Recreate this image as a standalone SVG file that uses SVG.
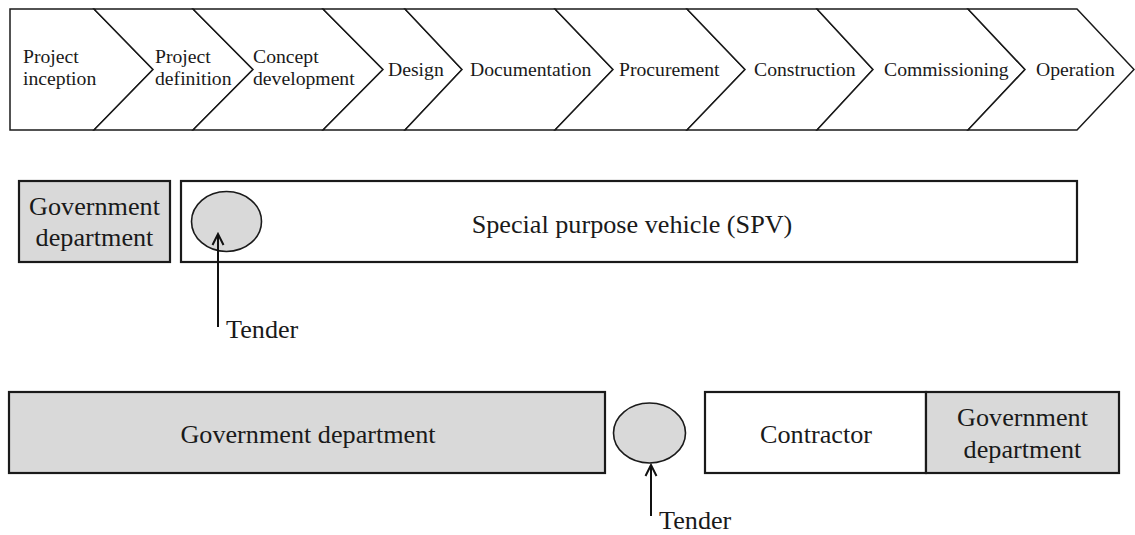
<svg xmlns="http://www.w3.org/2000/svg" width="1135" height="535" viewBox="0 0 1135 535">
<defs>
<style>
.ch{fill:#fff;stroke:#1a1a1a;stroke-width:1.5;stroke-linejoin:miter}
.t{font-family:"Liberation Serif","Times New Roman",serif;fill:#1a1a1a}
.s{font-size:19.7px}
.l{font-size:26.2px}
.box{stroke:#1a1a1a;stroke-width:2.2}
.g{fill:#d9d9d9}
.w{fill:#fff}
.ell{fill:#d9d9d9;stroke:#1a1a1a;stroke-width:1.6}
.arr{stroke:#111;stroke-width:2;fill:none}
</style>
<marker id="ah" viewBox="0 0 14 14" refX="12" refY="7" markerWidth="14" markerHeight="14" markerUnits="userSpaceOnUse" orient="auto">
<path d="M1,1.5 L12,7 L1,12.5" fill="none" stroke="#111" stroke-width="2"/>
</marker>
</defs>
<rect width="1135" height="535" fill="#fff"/>
<g id="phases">
<g id="p1"><polygon class="ch" points="10,9 94,9 153,69.5 94,130 10,130"/><text class="t s" x="23" y="63">Project</text><text class="t s" x="23" y="85">inception</text></g>
<g id="p2"><polygon class="ch" points="94,9 193,9 253,69.5 193,130 94,130 153,69.5"/><text class="t s" x="155" y="63">Project</text><text class="t s" x="155" y="85">definition</text></g>
<g id="p3"><polygon class="ch" points="193,9 323,9 383,69.5 323,130 193,130 253,69.5"/><text class="t s" x="253" y="63">Concept</text><text class="t s" x="253" y="85">development</text></g>
<g id="p4"><polygon class="ch" points="323,9 405,9 462,69.5 405,130 323,130 383,69.5"/><text class="t s" x="388" y="76">Design</text></g>
<g id="p5"><polygon class="ch" points="405,9 555,9 613,69.5 555,130 405,130 462,69.5"/><text class="t s" x="470" y="76">Documentation</text></g>
<g id="p6"><polygon class="ch" points="555,9 687,9 745,69.5 687,130 555,130 613,69.5"/><text class="t s" x="619" y="76">Procurement</text></g>
<g id="p7"><polygon class="ch" points="687,9 817,9 873,69.5 817,130 687,130 745,69.5"/><text class="t s" x="754" y="76">Construction</text></g>
<g id="p8"><polygon class="ch" points="817,9 968,9 1025,69.5 968,130 817,130 873,69.5"/><text class="t s" x="884" y="76">Commissioning</text></g>
<g id="p9"><polygon class="ch" points="968,9 1077,9 1134,69.5 1077,130 968,130 1025,69.5"/><text class="t s" x="1036" y="76">Operation</text></g>
</g>
<g id="gov1"><rect class="box g" x="19" y="181" width="151" height="81"/><text class="t l" x="94.5" y="215" text-anchor="middle">Government</text><text class="t l" x="94.5" y="246" text-anchor="middle">department</text></g>
<g id="spv"><rect class="box w" x="181" y="181" width="896" height="81"/><text class="t l" x="632" y="233" text-anchor="middle">Special purpose vehicle (SPV)</text></g>
<g id="tender1"><ellipse class="ell" cx="226.5" cy="221.5" rx="35" ry="30"/><text class="t l" x="226" y="338">Tender</text></g>
<g id="gov2"><rect class="box g" x="9" y="392" width="596" height="81"/><text class="t l" x="308" y="443" text-anchor="middle">Government department</text></g>
<g id="tender2"><ellipse class="ell" cx="649.5" cy="433" rx="36" ry="30"/><text class="t l" x="659" y="529">Tender</text></g>
<g id="contractor"><rect class="box w" x="705" y="392" width="221" height="81"/><text class="t l" x="816" y="443" text-anchor="middle">Contractor</text></g>
<g id="gov3"><rect class="box g" x="926" y="392" width="193" height="81"/><text class="t l" x="1022.5" y="426" text-anchor="middle">Government</text><text class="t l" x="1022.5" y="458" text-anchor="middle">department</text></g>
<g id="connectors">
<line class="arr" x1="218" y1="327" x2="218" y2="234" marker-end="url(#ah)"/>
<line class="arr" x1="651" y1="516" x2="651" y2="465" marker-end="url(#ah)"/>
</g>
</svg>
